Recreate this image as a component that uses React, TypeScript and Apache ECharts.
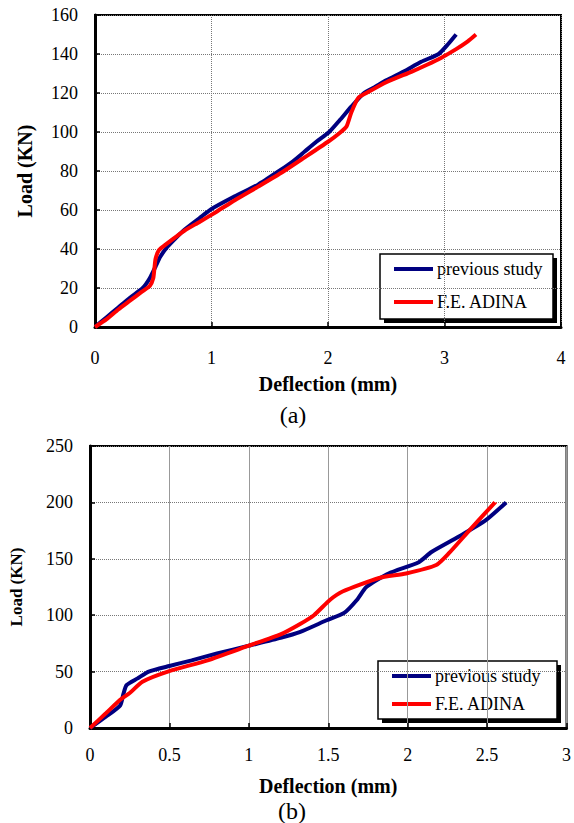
import React, { useEffect, useRef } from "react";
import * as echarts from "echarts";

// Chart (a): deflection (mm) vs load (KN)
const aPrevious: [number, number][] = [
  [0, 0], [0.1, 5], [0.2, 10], [0.3, 15], [0.41, 20], [0.47, 25], [0.52, 31],
  [0.56, 36], [0.62, 41], [0.7, 46], [0.77, 50], [0.9, 56], [1.0, 60.5],
  [1.2, 67], [1.4, 73], [1.58, 80], [1.7, 85], [1.8, 90], [1.9, 95], [2.01, 100],
  [2.1, 106], [2.2, 113], [2.31, 120], [2.4, 123], [2.5, 126.5], [2.65, 131],
  [2.8, 136], [2.95, 140], [3.03, 145], [3.1, 150],
];
const aAdina: [number, number][] = [
  [0, 0], [0.1, 4], [0.2, 9], [0.3, 13.5], [0.4, 18], [0.47, 21], [0.5, 25],
  [0.51, 30], [0.52, 35], [0.55, 39.5], [0.6, 42], [0.7, 46.5], [0.77, 49.5],
  [0.9, 54], [1.04, 59], [1.2, 65], [1.4, 72], [1.61, 79.5], [1.8, 87], [2.0, 95],
  [2.1, 99.5], [2.16, 103], [2.2, 110], [2.26, 117.5], [2.33, 120], [2.5, 125.5],
  [2.72, 131], [2.85, 134.5], [2.97, 138], [3.1, 142.5], [3.2, 146.5], [3.27, 150],
];

// Chart (b)
const bPrevious: [number, number][] = [
  [0, 0], [0.1, 10], [0.19, 20], [0.21, 30], [0.23, 38], [0.3, 44], [0.37, 50],
  [0.5, 55], [0.64, 60], [0.8, 66], [1.0, 73], [1.2, 80], [1.32, 85], [1.49, 95.5],
  [1.6, 102], [1.68, 113.5], [1.74, 125], [1.88, 137], [2.07, 147], [2.15, 156],
  [2.32, 169.5], [2.49, 184], [2.62, 200],
];
const bAdina: [number, number][] = [
  [0, 0], [0.1, 13], [0.19, 25], [0.25, 31], [0.33, 41], [0.49, 50], [0.74, 60],
  [1.0, 73], [1.2, 83], [1.32, 92], [1.41, 100], [1.51, 113.5], [1.59, 121],
  [1.82, 133], [1.99, 137], [2.18, 144.5], [2.26, 155], [2.4, 177], [2.55, 200],
];

const seriesNames = ["previous study", "F.E. ADINA"];
const seriesColors = ["#000080", "#ff0000"];
const xTitle = "Deflection (mm)";
const yTitle = "Load (KN)";

const FAMILY = "Liberation Serif";

function legend(x: number, y: number, w: number, h: number, row1: number, row2: number) {
  const txt = (text: string, ty: number) => ({
    type: "text", x: x + 57, y: ty,
    style: { text, fontFamily: FAMILY, fontSize: 18, fill: "#000", verticalAlign: "middle" },
  });
  return {
    type: "group",
    children: [
      { type: "rect", shape: { x: x + 4, y: y + 4, width: w, height: h }, style: { fill: "#000" } },
      { type: "rect", shape: { x, y, width: w, height: h }, style: { fill: "#fff", stroke: "#000", lineWidth: 1.5 } },
      { type: "line", shape: { x1: x + 14, y1: row1, x2: x + 53, y2: row1 }, style: { stroke: seriesColors[0], lineWidth: 4 } },
      { type: "line", shape: { x1: x + 14, y1: row2, x2: x + 53, y2: row2 }, style: { stroke: seriesColors[1], lineWidth: 4 } },
      txt(seriesNames[0], row1),
      txt(seriesNames[1], row2),
    ],
  };
}

export default function App() {
  const ref = useRef<HTMLDivElement>(null);
  useEffect(() => {
    document.body.style.margin = "0";
    if (!ref.current) return;
    const chart = echarts.init(ref.current, undefined, { renderer: "svg" });
    const axisLine = { show: true, lineStyle: { color: "#000", width: 3 } };
    const axisTick = { show: true, inside: true, length: 5, lineStyle: { color: "#000", width: 1.5 } };
    const dotted = { show: true, lineStyle: { color: "#777", type: "dotted" as const, width: 1 } };
    const label = (margin: number, size: number) => ({ color: "#000", fontFamily: FAMILY, fontSize: size, margin });
    const nameStyle = (size: number) => ({ color: "#000", fontFamily: FAMILY, fontWeight: "bold" as const, fontSize: size });

    chart.setOption({
      animation: false,
      backgroundColor: "#fff",
      textStyle: { fontFamily: FAMILY },
      grid: [
        { left: 95, top: 15, width: 466, height: 312, show: true, borderColor: "#000", borderWidth: 2, backgroundColor: "#fff" },
        { left: 87.5, top: 446, width: 480, height: 282, show: true, borderColor: "#000", borderWidth: 2, backgroundColor: "#fff" },
      ],
      xAxis: [
        {
          gridIndex: 0, type: "value", min: 0, max: 4, interval: 1,
          axisLine, axisTick, splitLine: dotted, axisLabel: label(22, 18),
          name: xTitle, nameLocation: "middle", nameGap: 47, nameTextStyle: nameStyle(20),
        },
        {
          gridIndex: 1, type: "value", min: 0, max: 3, interval: 0.5,
          axisLine, axisTick, splitLine: { show: true, lineStyle: { color: "#999", type: "solid", width: 1 } },
          axisLabel: label(18, 18),
          name: xTitle, nameLocation: "middle", nameGap: 48, nameTextStyle: nameStyle(20),
        },
      ],
      yAxis: [
        {
          gridIndex: 0, type: "value", min: 0, max: 160, interval: 20,
          axisLine, axisTick, splitLine: dotted, axisLabel: label(17, 18),
          name: yTitle, nameLocation: "middle", nameGap: 60, nameTextStyle: nameStyle(20),
        },
        {
          gridIndex: 1, type: "value", min: 0, max: 250, interval: 50,
          axisLine, axisTick, splitLine: dotted, axisLabel: label(17, 18),
          name: yTitle, nameLocation: "middle", nameGap: 65, nameTextStyle: nameStyle(17),
        },
      ],
      series: [
        { name: seriesNames[0], type: "line", xAxisIndex: 0, yAxisIndex: 0, data: aPrevious, showSymbol: false, smooth: 0.2, lineStyle: { color: seriesColors[0], width: 4 }, itemStyle: { color: seriesColors[0] } },
        { name: seriesNames[1], type: "line", xAxisIndex: 0, yAxisIndex: 0, data: aAdina, showSymbol: false, smooth: 0.2, lineStyle: { color: seriesColors[1], width: 4 }, itemStyle: { color: seriesColors[1] } },
        { name: seriesNames[0], type: "line", xAxisIndex: 1, yAxisIndex: 1, data: bPrevious, showSymbol: false, smooth: 0.2, lineStyle: { color: seriesColors[0], width: 4 }, itemStyle: { color: seriesColors[0] } },
        { name: seriesNames[1], type: "line", xAxisIndex: 1, yAxisIndex: 1, data: bAdina, showSymbol: false, smooth: 0.2, lineStyle: { color: seriesColors[1], width: 4 }, itemStyle: { color: seriesColors[1] } },
      ],
      graphic: [
        legend(380, 254, 173, 65, 269, 302),
        legend(378, 661, 179, 58, 676, 704),
        { type: "text", x: 293, y: 415, style: { text: "(a)", fontFamily: FAMILY, fontSize: 24, fill: "#000", align: "center", verticalAlign: "middle" } },
        { type: "text", x: 292, y: 811, style: { text: "(b)", fontFamily: FAMILY, fontSize: 24, fill: "#000", align: "center", verticalAlign: "middle" } },
      ],
    });
    return () => chart.dispose();
  }, []);
  return <div ref={ref} style={{ width: 574, height: 823 }} />;
}
